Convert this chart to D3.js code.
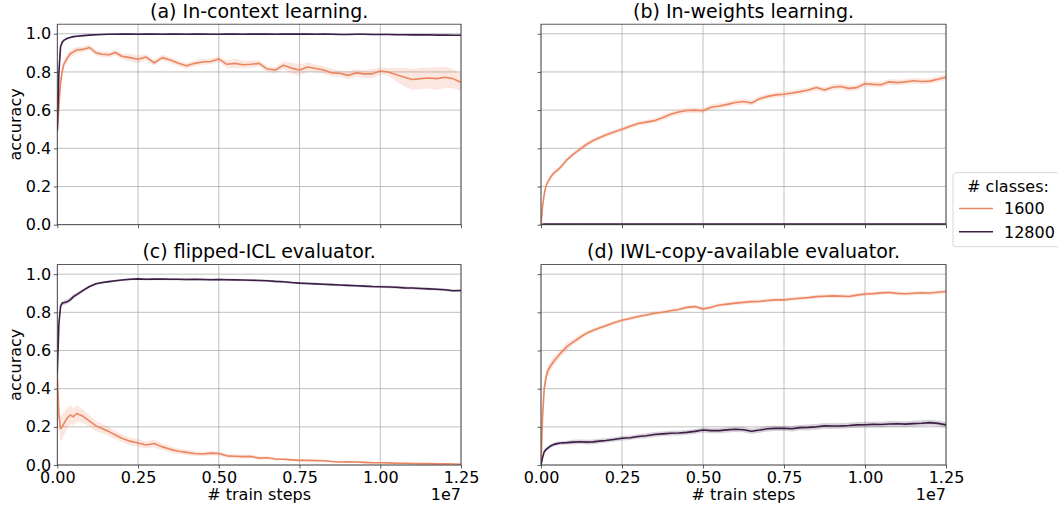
<!DOCTYPE html>
<html><head><meta charset="utf-8">
<script src="https://cdn.jsdelivr.net/npm/d3@7"></script>
<style>body{margin:0;background:#fff}svg{font-family:"DejaVu Sans",sans-serif}</style>
</head><body><svg id="c" width="1058" height="507"></svg>
<script>
// shared x grid (# train steps)
const steps = [0,5e4,1e5,1.5e5,2e5,3e5,4e5,5e5,6e5,8e5,
  1e6,1.2e6,1.4e6,1.6e6,1.8e6,2e6,2.25e6,2.5e6,2.75e6,3e6,
  3.25e6,3.5e6,3.75e6,4e6,4.25e6,4.5e6,4.75e6,5e6,5.25e6,5.5e6,
  5.75e6,6e6,6.25e6,6.5e6,6.75e6,7e6,7.25e6,7.5e6,7.75e6,8e6,
  8.25e6,8.5e6,8.75e6,9e6,9.25e6,9.5e6,9.75e6,1e7,1.025e7,1.05e7,
  1.075e7,1.1e7,1.125e7,1.15e7,1.175e7,1.2e7,1.225e7,1.25e7];

const classes = ["1600","12800"];
const colors = ["#eb8660","#3b1d45"];
const xTicks = [0,2.5e6,5e6,7.5e6,1e7,1.25e7];
const yTicks = [0,0.2,0.4,0.6,0.8,1.0];
const titles = ["(a) In-context learning.","(b) In-weights learning.","(c) flipped-ICL evaluator.","(d) IWL-copy-available evaluator."];

// (a) in-context learning
const icl_1600 = [0.49,0.62,0.74,0.80,0.84,0.87,0.895,0.905,0.915,0.918,
  0.928,0.90,0.893,0.89,0.902,0.882,0.875,0.866,0.878,0.848,
  0.875,0.862,0.845,0.832,0.845,0.852,0.855,0.868,0.84,0.845,
  0.838,0.84,0.845,0.815,0.81,0.835,0.82,0.81,0.826,0.818,
  0.81,0.795,0.793,0.782,0.795,0.79,0.79,0.805,0.80,0.785,
  0.772,0.76,0.765,0.768,0.765,0.772,0.765,0.745];
const icl_1600_ci = [0,0.03,0.03,0.03,0.025,0.02,0.02,0.02,0.015,0.015,
  0.015,0.015,0.015,0.015,0.015,0.015,0.02,0.02,0.015,0.015,
  0.015,0.015,0.015,0.015,0.015,0.015,0.015,0.015,0.02,0.025,
  0.02,0.02,0.015,0.015,0.015,0.02,0.03,0.03,0.025,0.02,
  0.02,0.02,0.015,0.02,0.02,0.02,0.025,0.02,0.02,0.035,
  0.05,0.055,0.055,0.055,0.06,0.055,0.05,0.045];
const icl_12800 = [0.49,0.80,0.93,0.955,0.965,0.975,0.98,0.985,0.987,0.99,
  0.993,0.995,0.996,0.997,0.997,0.998,0.998,0.997,0.998,0.998,
  0.997,0.998,0.998,0.997,0.998,0.998,0.997,0.997,0.998,0.998,
  0.997,0.998,0.998,0.998,0.997,0.998,0.998,0.998,0.998,0.997,
  0.998,0.997,0.996,0.996,0.997,0.997,0.996,0.996,0.996,0.995,
  0.995,0.994,0.994,0.995,0.993,0.993,0.992,0.992];
const icl_12800_ci = [0,0.012,0.01,0.008,0.006,0.005,0.004,0.004,0.004,0.004,
  0.003,0.003,0.003,0.003,0.003,0.003,0.003,0.003,0.003,0.003,
  0.003,0.003,0.003,0.003,0.003,0.003,0.003,0.003,0.003,0.003,
  0.003,0.003,0.003,0.003,0.003,0.003,0.003,0.003,0.003,0.003,
  0.003,0.003,0.003,0.003,0.003,0.003,0.003,0.003,0.003,0.003,
  0.003,0.003,0.003,0.003,0.003,0.003,0.003,0.003];

// (b) in-weights learning
const iwl_1600 = [0,0.10,0.16,0.20,0.22,0.25,0.272,0.285,0.30,0.34,
  0.37,0.395,0.42,0.44,0.455,0.47,0.485,0.50,0.515,0.53,
  0.537,0.545,0.56,0.578,0.59,0.598,0.60,0.597,0.615,0.622,
  0.63,0.64,0.645,0.637,0.66,0.672,0.68,0.683,0.69,0.697,
  0.705,0.718,0.705,0.72,0.724,0.714,0.718,0.738,0.735,0.733,
  0.748,0.744,0.748,0.754,0.75,0.752,0.762,0.772];
const iwl_1600_ci = [0,0.012,0.012,0.012,0.012,0.012,0.012,0.012,0.012,0.012,
  0.012,0.012,0.012,0.012,0.012,0.012,0.012,0.012,0.012,0.012,
  0.012,0.012,0.014,0.014,0.014,0.014,0.014,0.014,0.014,0.014,
  0.014,0.014,0.014,0.014,0.014,0.014,0.014,0.014,0.014,0.014,
  0.014,0.015,0.015,0.015,0.015,0.015,0.015,0.015,0.015,0.015,
  0.015,0.015,0.015,0.015,0.015,0.015,0.015,0.015];
const iwl_12800 = [0,0.002,0.003,0.003,0.004,0.003,0.003,0.004,0.003,0.003,
  0.003,0.004,0.003,0.003,0.003,0.004,0.003,0.003,0.003,0.003,
  0.004,0.003,0.003,0.003,0.003,0.004,0.003,0.003,0.003,0.003,
  0.003,0.003,0.004,0.003,0.003,0.003,0.003,0.003,0.004,0.003,
  0.003,0.003,0.003,0.003,0.004,0.003,0.003,0.003,0.003,0.003,
  0.003,0.004,0.003,0.003,0.003,0.003,0.003,0.003];
const iwl_12800_ci = [0,0.002,0.002,0.002,0.002,0.002,0.002,0.002,0.002,0.002,
  0.002,0.002,0.002,0.002,0.002,0.002,0.002,0.002,0.002,0.002,
  0.002,0.002,0.002,0.002,0.002,0.002,0.002,0.002,0.002,0.002,
  0.002,0.002,0.002,0.002,0.002,0.002,0.002,0.002,0.002,0.002,
  0.002,0.002,0.002,0.002,0.002,0.002,0.002,0.002,0.002,0.002,
  0.002,0.002,0.002,0.002,0.002,0.002,0.002,0.002];

// (c) flipped-ICL evaluator
const flip_1600 = [0.48,0.26,0.19,0.20,0.215,0.245,0.262,0.253,0.27,0.255,
  0.23,0.205,0.19,0.175,0.157,0.14,0.125,0.115,0.105,0.113,
  0.095,0.082,0.072,0.066,0.06,0.058,0.062,0.06,0.048,0.046,
  0.044,0.045,0.036,0.038,0.031,0.03,0.027,0.024,0.024,0.023,
  0.022,0.018,0.016,0.017,0.016,0.014,0.012,0.012,0.011,0.009,
  0.009,0.008,0.007,0.007,0.006,0.006,0.005,0.004];
const flip_1600_ci = [0,0.06,0.07,0.065,0.06,0.055,0.05,0.045,0.045,0.035,
  0.03,0.028,0.025,0.025,0.022,0.02,0.02,0.02,0.018,0.02,
  0.018,0.016,0.015,0.014,0.013,0.012,0.012,0.012,0.01,0.01,
  0.01,0.009,0.008,0.008,0.007,0.007,0.006,0.006,0.006,0.005,
  0.005,0.005,0.005,0.005,0.005,0.005,0.005,0.005,0.005,0.005,
  0.004,0.004,0.004,0.004,0.004,0.004,0.004,0.004];
const flip_12800 = [0.48,0.74,0.83,0.848,0.85,0.855,0.865,0.882,0.893,0.915,
  0.935,0.95,0.956,0.961,0.965,0.969,0.973,0.975,0.973,0.974,
  0.974,0.973,0.973,0.972,0.973,0.972,0.971,0.972,0.971,0.97,
  0.969,0.968,0.967,0.965,0.962,0.96,0.956,0.953,0.951,0.949,
  0.947,0.945,0.943,0.941,0.939,0.937,0.935,0.934,0.933,0.931,
  0.928,0.927,0.925,0.923,0.921,0.918,0.913,0.914];
const flip_12800_ci = [0,0.02,0.015,0.012,0.012,0.012,0.012,0.012,0.01,0.008,
  0.006,0.006,0.006,0.006,0.006,0.006,0.006,0.006,0.006,0.006,
  0.006,0.006,0.006,0.006,0.006,0.006,0.006,0.006,0.006,0.006,
  0.006,0.006,0.006,0.006,0.006,0.006,0.006,0.006,0.006,0.006,
  0.006,0.006,0.006,0.006,0.007,0.007,0.007,0.007,0.007,0.007,
  0.007,0.007,0.007,0.007,0.007,0.007,0.007,0.007];

// (d) IWL-copy-available evaluator
const copy_1600 = [0,0.26,0.40,0.455,0.49,0.52,0.545,0.565,0.585,0.62,
  0.645,0.668,0.69,0.705,0.718,0.73,0.745,0.758,0.768,0.778,
  0.786,0.795,0.80,0.808,0.815,0.826,0.83,0.818,0.826,0.838,
  0.843,0.848,0.852,0.856,0.857,0.862,0.865,0.865,0.87,0.874,
  0.877,0.882,0.884,0.886,0.885,0.883,0.89,0.896,0.898,0.902,
  0.904,0.899,0.897,0.90,0.902,0.901,0.905,0.909];
const copy_1600_ci = [0,0.04,0.04,0.035,0.03,0.025,0.025,0.02,0.02,0.02,
  0.015,0.015,0.012,0.012,0.012,0.01,0.01,0.01,0.01,0.01,
  0.01,0.01,0.01,0.01,0.01,0.01,0.01,0.01,0.01,0.01,
  0.01,0.01,0.01,0.01,0.01,0.01,0.01,0.01,0.01,0.01,
  0.01,0.01,0.01,0.01,0.01,0.01,0.01,0.01,0.01,0.01,
  0.01,0.01,0.01,0.01,0.01,0.01,0.01,0.01];
const copy_12800 = [0,0.04,0.07,0.08,0.087,0.10,0.108,0.112,0.115,0.117,
  0.12,0.122,0.12,0.121,0.125,0.128,0.134,0.14,0.143,0.149,
  0.153,0.16,0.163,0.166,0.168,0.171,0.176,0.183,0.18,0.18,
  0.184,0.187,0.185,0.177,0.183,0.19,0.192,0.192,0.19,0.196,
  0.197,0.2,0.205,0.204,0.205,0.207,0.21,0.211,0.213,0.212,
  0.215,0.216,0.214,0.217,0.219,0.222,0.218,0.21];
const copy_12800_ci = [0,0.01,0.01,0.01,0.01,0.01,0.01,0.01,0.01,0.01,
  0.012,0.012,0.012,0.012,0.012,0.012,0.012,0.012,0.012,0.012,
  0.013,0.013,0.013,0.013,0.013,0.013,0.013,0.013,0.013,0.013,
  0.014,0.014,0.014,0.014,0.014,0.014,0.014,0.014,0.014,0.014,
  0.015,0.015,0.015,0.015,0.015,0.015,0.015,0.015,0.015,0.015,
  0.015,0.015,0.015,0.015,0.015,0.015,0.015,0.015];

const panelSeries = [
  [[icl_1600,icl_1600_ci],[icl_12800,icl_12800_ci]],
  [[iwl_1600,iwl_1600_ci],[iwl_12800,iwl_12800_ci]],
  [[flip_1600,flip_1600_ci],[flip_12800,flip_12800_ci]],
  [[copy_1600,copy_1600_ci],[copy_12800,copy_12800_ci]]
];

const svg = d3.select("#c");
const boxes = [
  {l:57.3,r:461,t:24.2,b:224.7,ty:18,left:true,bottom:false},
  {l:541,r:946,t:24.2,b:224.7,ty:18,left:false,bottom:false},
  {l:57.3,r:461,t:264.6,b:465,ty:258,left:true,bottom:true},
  {l:541,r:946,t:264.6,b:465,ty:258,left:false,bottom:true}
];

boxes.forEach((bx,i)=>{
  const x = d3.scaleLinear().domain([0,1.25e7]).range([bx.l,bx.r]);
  const y = d3.scaleLinear().domain([0,1.05]).range([bx.b,bx.t]);
  const g = svg.append("g");
  const cid = "clip"+i;
  svg.append("clipPath").attr("id",cid).append("rect")
    .attr("x",bx.l).attr("y",bx.t).attr("width",bx.r-bx.l).attr("height",bx.b-bx.t);
  // grid
  g.append("g").selectAll("line").data(xTicks).join("line")
    .attr("x1",d=>x(d)).attr("x2",d=>x(d)).attr("y1",bx.t).attr("y2",bx.b)
    .attr("stroke","#b0b0b0").attr("stroke-width",0.8);
  g.append("g").selectAll("line").data(yTicks).join("line")
    .attr("y1",d=>y(d)).attr("y2",d=>y(d)).attr("x1",bx.l).attr("x2",bx.r)
    .attr("stroke","#b0b0b0").attr("stroke-width",0.8);
  // series
  const plot = g.append("g").attr("clip-path",`url(#${cid})`);
  panelSeries[i].forEach(([vals,ci],k)=>{
    const pts = steps.map((s,j)=>({s,v:vals[j],c:ci[j]}));
    plot.append("path").datum(pts)
      .attr("d",d3.area().x(d=>x(d.s)).y0(d=>y(d.v-d.c)).y1(d=>y(d.v+d.c)))
      .attr("fill",colors[k]).attr("fill-opacity",0.2).attr("stroke","none");
    plot.append("path").datum(pts)
      .attr("d",d3.line().x(d=>x(d.s)).y(d=>y(d.v)))
      .attr("fill","none").attr("stroke",colors[k]).attr("stroke-width",1.6)
      .attr("stroke-linejoin","round");
  });
  // axes
  const xa = d3.axisBottom(x).tickValues(xTicks).tickSize(3.5).tickPadding(3.3)
    .tickFormat(bx.bottom ? (d=>d3.format(".2f")(d/1e7)) : "");
  const ya = d3.axisLeft(y).tickValues(yTicks).tickSize(3.5).tickPadding(2.5)
    .tickFormat(bx.left ? d3.format(".1f") : "");
  const gx = g.append("g").attr("transform",`translate(0,${bx.b})`).call(xa);
  const gy = g.append("g").attr("transform",`translate(${bx.l},0)`).call(ya);
  [gx,gy].forEach(a=>{
    a.select(".domain").remove();
    a.selectAll("text").attr("font-size",16).attr("fill","#000").attr("font-family","DejaVu Sans");
    a.selectAll("line").attr("stroke","#333").attr("stroke-width",0.8);
  });
  // frame
  g.append("rect").attr("x",bx.l).attr("y",bx.t).attr("width",bx.r-bx.l).attr("height",bx.b-bx.t)
    .attr("fill","none").attr("stroke","#333").attr("stroke-width",0.8);
  // title
  g.append("text").attr("x",(bx.l+bx.r)/2).attr("y",bx.ty).attr("text-anchor","middle")
    .attr("font-size",19).attr("fill","#000").text(titles[i]);
  if(bx.left){
    g.append("text").attr("transform",`translate(21,${(bx.t+bx.b)/2}) rotate(-90)`)
      .attr("text-anchor","middle").attr("font-size",16).attr("fill","#000").text("accuracy");
  }
  if(bx.bottom){
    g.append("text").attr("x",(bx.l+bx.r)/2).attr("y",500).attr("text-anchor","middle")
      .attr("font-size",16).attr("fill","#000").text("# train steps");
    g.append("text").attr("x",bx.r).attr("y",500).attr("text-anchor","end")
      .attr("font-size",16).attr("fill","#000").text("1e7");
  }
});

// legend
const lg = svg.append("g");
lg.append("rect").attr("x",953).attr("y",172.7).attr("width",120).attr("height",74).attr("rx",3)
  .attr("fill","#fff").attr("fill-opacity",0.8).attr("stroke","#cccccc").attr("stroke-width",0.8);
lg.append("text").attr("x",1008).attr("y",192).attr("text-anchor","middle").attr("font-size",16).attr("fill","#000").text("# classes:");
classes.forEach((c,k)=>{
  const yy = 208.5 + k*23.2;
  lg.append("line").attr("x1",959).attr("x2",993).attr("y1",yy).attr("y2",yy)
    .attr("stroke",colors[k]).attr("stroke-width",1.6);
  lg.append("text").attr("x",1004).attr("y",yy+5.8).attr("font-size",16).attr("fill","#000").text(c);
});
</script></body></html>
